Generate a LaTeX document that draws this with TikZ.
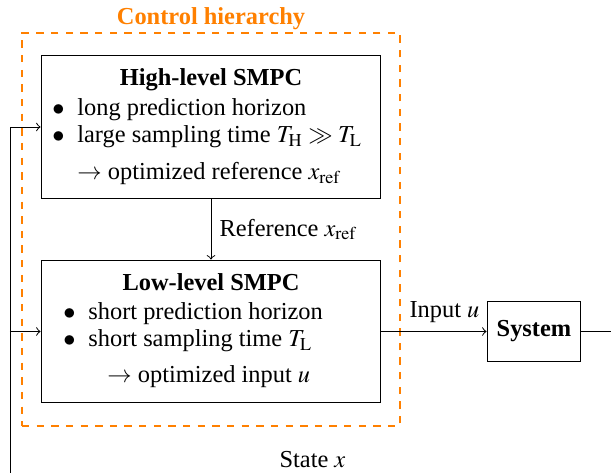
\documentclass[tikz,border=0pt]{standalone}
\usepackage{mathptmx}
\usepackage{fontspec}
\setmainfont{Liberation Serif}
\begin{document}
\begin{tikzpicture}[x=0.4098pt,y=-0.4098pt,
    block/.style = {draw,inner sep=0pt},
    textline/.style = {anchor=west,inner sep=0pt},
    hierbox/.style = {draw=orange,thick,dashed,inner sep=0pt}]
    \useasboundingbox (0,0) rectangle (611,473);
    \node[hierbox,minimum width=154.9pt,minimum height=161.1pt] (hier) at (211,229.5) {};
    \node[font=\bfseries,text=orange] (hiertitle) at (211,19) {Control hierarchy};

    \node[block,minimum width=139.3pt,minimum height=59pt] (hl) at (211,127) {};
    \node[font=\bfseries] (hltitle) at (211,79.5) {High-level SMPC};
    \node[textline] (hlitema) at (52,110) {\makebox[10.2pt][l]{$\bullet$}long prediction horizon};
    \node[textline] (hlitemb) at (52,136.5) {\makebox[10.2pt][l]{$\bullet$}large sampling time $T_{\mathrm{H}}\gg T_{\mathrm{L}}$};
    \node[textline] (hlres) at (77,174) {$\rightarrow$ optimized reference $x_{\mathrm{ref}}$};

    \node[block,minimum width=139.3pt,minimum height=58.6pt] (ll) at (211,331.5) {};
    \node[font=\bfseries] (lltitle) at (211,282) {Low-level SMPC};
    \node[textline] (llitema) at (63,314) {\makebox[10.2pt][l]{$\bullet$}short prediction horizon};
    \node[textline] (llitemb) at (63,341) {\makebox[10.2pt][l]{$\bullet$}short sampling time $T_{\mathrm{L}}$};
    \node[textline] (llres) at (107,377) {$\rightarrow$ optimized input $u$};

    \node[block,minimum width=38.5pt,minimum height=24.2pt,font=\bfseries] (sys) at (534,331.5) {System};

    \draw[->] (hl) -- (ll) node[midway,right] (reflabel) {Reference $x_{\mathrm{ref}}$};
    \draw[->] (ll) -- (sys) node[pos=0.6,above] (inlabel) {Input $u$};
    \coordinate (fbr) at (615,331.5);
    \coordinate (fbl) at (10,476);
    \draw (sys) -- (fbr) |- (fbl) node[pos=0.75,above] (statelabel) {State $x$};
    \draw[->] (fbl) |- (hl);
    \draw[->] (fbl |- ll) -- (ll);
\end{tikzpicture}
\end{document}
